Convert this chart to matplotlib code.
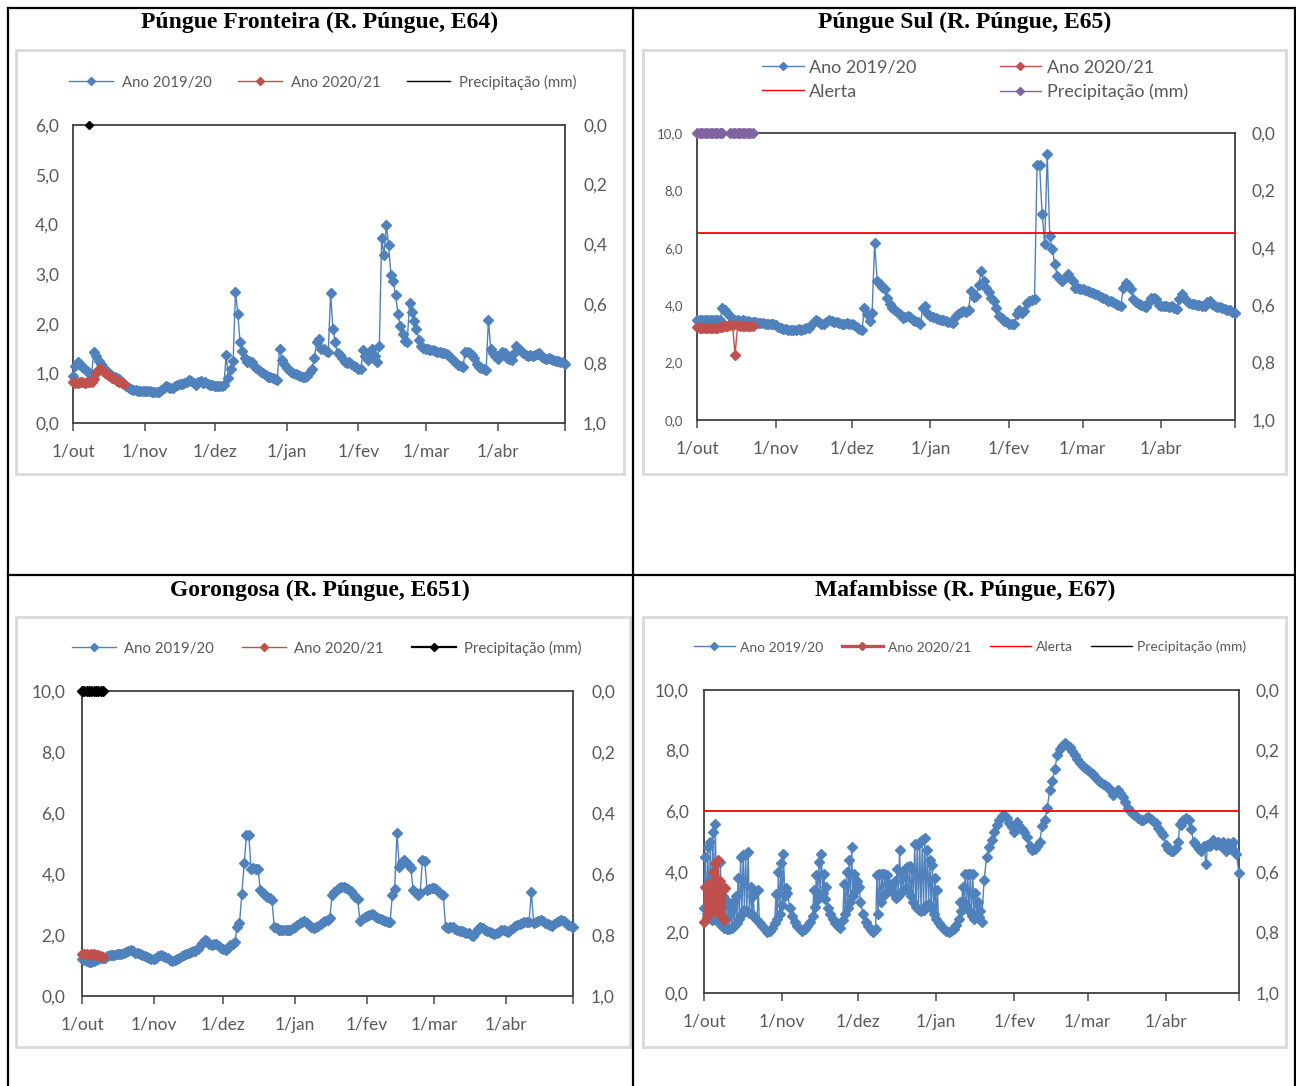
import numpy as np
import pandas as pd
import matplotlib
matplotlib.use("Agg")
import matplotlib.pyplot as plt
from matplotlib.lines import Line2D
from matplotlib.patches import Rectangle
from matplotlib.ticker import FuncFormatter

nan = np.nan

# ---------------- data ----------------
season_start = "2019-10-01"
season_end = "2020-04-30"
month_firsts = ["2019-10-01", "2019-11-01", "2019-12-01", "2020-01-01",
                "2020-02-01", "2020-03-01", "2020-04-01", "2020-04-30"]
month_labels = ["1/out", "1/nov", "1/dez", "1/jan", "1/fev", "1/mar", "1/abr", ""]

titles = ["Púngue Fronteira (R. Púngue, E64)", "Púngue Sul (R. Púngue, E65)",
          "Gorongosa (R. Púngue, E651)", "Mafambisse (R. Púngue, E67)"]

# Panel 1 - Púngue Fronteira (E64)
p1_2019 = [
    0.94, 1.15, 1.23, 1.18, 1.12, 1.08, 1.04, 1.01, 0.98, 1.43, 1.35, 1.25, 1.19, 1.12, 1.07, 1.02,
    0.98, 0.95, 0.92, 0.90, 0.88, 0.83, 0.79, 0.75, 0.71, 0.69, 0.67, 0.66, 0.65, 0.65, 0.65,
    0.65, 0.64, 0.64, 0.63, 0.63, 0.63, 0.63, 0.66, 0.70, 0.75, 0.72, 0.70, 0.71, 0.74, 0.76,
    0.78, 0.79, 0.80, 0.83, 0.87, 0.85, 0.80, 0.77, 0.82, 0.84, 0.80, 0.82, 0.78, 0.77, 0.76,
    0.75, 0.74, 0.74, 0.74, 0.76, 1.36, 0.90, 1.09, 1.25, 2.64, 2.20, 1.63, 1.45, 1.30, 1.22, 1.25,
    1.23, 1.15, 1.10, 1.06, 1.03, 1.00, 0.96, 0.93, 0.92, 0.90, 0.88, 0.86, 1.50, 1.26, 1.18,
    1.10, 1.06, 1.02, 1.00, 0.98, 0.96, 0.94, 0.93, 0.92, 0.95, 1.02, 1.09, 1.30, 1.63, 1.70, 1.50,
    1.48, 1.45, 1.43, 2.61, 1.90, 1.63, 1.40, 1.36, 1.30, 1.23, 1.20, 1.22, 1.19, 1.15, 1.12,
    1.09, 1.08, 1.46, 1.35, 1.26, 1.40, 1.50, 1.35, 1.23, 1.56, 3.72, 3.38, 3.99, 3.59, 2.98, 2.85,
    2.58, 2.20, 1.95, 1.80, 1.65, 1.63, 2.41, 2.24, 2.05, 1.90, 1.68, 1.56, 1.52,
    1.50, 1.48, 1.47, 1.46, 1.44, 1.43, 1.42, 1.41, 1.40, 1.38, 1.35, 1.30, 1.25, 1.20, 1.16, 1.14,
    1.13, 1.43, 1.42, 1.40, 1.36, 1.30, 1.19, 1.12, 1.10, 1.08, 1.06, 2.07, 1.50, 1.40, 1.35,
    1.29, 1.35, 1.43, 1.40, 1.30, 1.28, 1.26, 1.40, 1.56, 1.50, 1.45, 1.40, 1.36, 1.35, 1.37, 1.34,
    1.36, 1.38, 1.40, 1.33, 1.30, 1.29, 1.30, 1.28, 1.26, 1.25, 1.24, 1.23, 1.22, 1.19]
p1_2020 = [0.82, 0.81, 0.81, 0.82, 0.82, 0.81, 0.82, 0.82, 0.83, 0.88, 1.00, 1.08, 1.09, 1.04,
           1.00, 0.97, 0.94, 0.91, 0.88, 0.85, 0.82, 0.80, 0.79]
p1_prec_day = [7]
p1_prec = [0.0]

# Panel 2 - Púngue Sul (E65)
p2_2019 = [
    3.48, 3.49, 3.48, 3.50, 3.48, 3.49, 3.48, 3.50, 3.48, 3.47, 3.91, 3.82, 3.72, 3.62, 3.48, 3.47,
    3.48, 3.46, 3.47, 3.45, 3.44, 3.43, 3.42, 3.40, 3.38, 3.38, 3.37, 3.36, 3.35, 3.35, 3.34,
    3.30, 3.25, 3.21, 3.18, 3.16, 3.15, 3.15, 3.15, 3.15, 3.16, 3.15, 3.18, 3.20, 3.20, 3.30,
    3.42, 3.50, 3.40, 3.35, 3.33, 3.40, 3.47, 3.45, 3.40, 3.40, 3.38, 3.35, 3.35, 3.38, 3.36,
    3.33, 3.30, 3.25, 3.18, 3.15, 3.91, 3.70, 3.45, 3.74, 6.16, 4.84, 4.75, 4.65, 4.55, 4.26, 4.05,
    3.91, 3.85, 3.75, 3.68, 3.56, 3.60, 3.62, 3.58, 3.50, 3.45, 3.40, 3.33, 3.91, 3.97, 3.68,
    3.62, 3.58, 3.55, 3.52, 3.50, 3.48, 3.44, 3.41, 3.40, 3.39, 3.62, 3.70, 3.78, 3.80, 3.75, 3.85,
    4.49, 4.30, 4.32, 4.70, 5.19, 4.84, 4.60, 4.45, 4.25, 4.14, 3.90, 3.62, 3.55, 3.45, 3.40,
    3.36, 3.34, 3.33, 3.68, 3.85, 3.74, 3.80, 4.09, 4.15, 4.18, 4.20, 8.89, 8.89, 7.17, 6.12, 9.27,
    6.41, 5.95, 5.42, 5.02, 4.90, 4.84, 4.96, 5.08, 4.95, 4.84, 4.61, 4.60, 4.58,
    4.55, 4.52, 4.50, 4.47, 4.42, 4.38, 4.35, 4.30, 4.25, 4.20, 4.16, 4.14, 4.10, 4.05, 4.00, 3.97,
    4.61, 4.78, 4.70, 4.55, 4.20, 4.10, 4.05, 3.99, 3.97, 3.93, 4.10, 4.26, 4.26, 4.22, 4.00,
    3.97, 3.97, 3.97, 3.95, 3.97, 3.90, 3.88, 4.20, 4.38, 4.25, 4.14, 4.08, 4.05, 4.03, 4.02, 3.99,
    3.98, 3.97, 4.10, 4.14, 4.05, 3.97, 3.95, 3.93, 3.90, 3.88, 3.85, 3.82, 3.78, 3.74]
p2_2020 = [3.24, 3.22, 3.22, 3.22, 3.21, 3.22, 3.21, 3.22, 3.22, 3.24, 3.25, 3.27, 3.28, 3.30,
           3.30, 2.28, 3.30, 3.29, 3.28, 3.27, 3.28, 3.28, 3.28]
p2_alert = 6.5
p2_prec = [0.0, 0.0, 0.0, 0.0, 0.0, 0.0, 0.0, 0.0, 0.0, 0.0, 0.0, nan, nan,
           0.0, 0.0, 0.0, 0.0, 0.0, 0.0, 0.0, 0.0, 0.0, 0.0]

# Panel 3 - Gorongosa (E651)
p3_2019 = [
    1.20, 1.17, 1.15, 1.13, 1.13, 1.16, 1.19, 1.21, 1.23, 1.25, 1.26, 1.30, 1.33, 1.35, 1.36, 1.37,
    1.37, 1.37, 1.40, 1.45, 1.49, 1.51, 1.47, 1.42, 1.40, 1.37, 1.34, 1.32, 1.28, 1.25, 1.22,
    1.21, 1.26, 1.31, 1.35, 1.32, 1.28, 1.24, 1.19, 1.15, 1.17, 1.21, 1.26, 1.30, 1.35, 1.37,
    1.40, 1.43, 1.46, 1.48, 1.55, 1.65, 1.75, 1.84, 1.80, 1.72, 1.68, 1.70, 1.70, 1.65, 1.58,
    1.53, 1.51, 1.58, 1.68, 1.72, 1.76, 2.27, 2.38, 3.35, 4.36, 5.27, 5.27, 4.18, 4.20, 4.18, 4.18,
    3.46, 3.38, 3.30, 3.24, 3.20, 3.15, 2.27, 2.22, 2.18, 2.16, 2.16, 2.16, 2.16, 2.18, 2.22,
    2.27, 2.32, 2.38, 2.44, 2.45, 2.40, 2.33, 2.27, 2.23, 2.25, 2.30, 2.36, 2.42, 2.47, 2.49, 2.56,
    3.30, 3.40, 3.48, 3.54, 3.57, 3.57, 3.55, 3.52, 3.45, 3.35, 3.25, 3.19, 2.45, 2.52, 2.58,
    2.63, 2.66, 2.69, 2.66, 2.60, 2.55, 2.51, 2.48, 2.45, 2.43, 2.42, 3.30, 3.52, 5.35, 4.23, 4.40,
    4.45, 4.38, 4.30, 4.21, 3.46, 3.38, 3.30, 3.38, 4.45, 4.42, 3.48, 3.50, 3.55,
    3.55, 3.50, 3.42, 3.35, 3.30, 2.25, 2.22, 2.25, 2.25, 2.20, 2.16, 2.14, 2.12, 2.10, 2.08, 2.05,
    2.00, 1.98, 2.10, 2.20, 2.25, 2.22, 2.18, 2.14, 2.10, 2.06, 2.03, 2.05, 2.10, 2.15, 2.16,
    2.12, 2.09, 2.15, 2.22, 2.28, 2.32, 2.36, 2.40, 2.42, 2.42, 2.42, 3.41, 2.40, 2.42, 2.45, 2.49,
    2.45, 2.40, 2.36, 2.33, 2.31, 2.36, 2.42, 2.47, 2.49, 2.47, 2.40, 2.33, 2.28, 2.25]
p3_2020 = [1.38, 1.37, 1.37, 1.36, 1.37, 1.38, 1.36, 1.35, 1.32, 1.28]
p3_prec = [0.0, 0.0, 0.0, 0.0, 0.0, 0.0, 0.0, 0.0, 0.0, 0.0]

# Panel 4 - Mafambisse (E67): two readings a day (low / high)
p4_2019_low = [
    2.80, 2.60, 2.50, 2.40, 2.45, 2.50, 2.30, 2.20, 2.15, 2.10, 2.10, 2.15, 2.20, 2.30, 2.45, 2.60,
    2.75, 2.70, 2.65, 2.60, 2.50, 2.40, 2.30, 2.20, 2.10, 2.02, 2.05, 2.15, 2.30, 2.45, 2.60,
    2.90, 3.20, 3.30, 2.80, 2.55, 2.35, 2.20, 2.10, 2.05, 2.10, 2.20, 2.35, 2.55, 2.85, 3.10,
    3.25, 3.30, 3.10, 2.80, 2.60, 2.45, 2.30, 2.20, 2.15, 2.40, 2.60, 2.80, 3.00, 3.20, 3.35,
    3.45, 3.00, 2.60, 2.35, 2.20, 2.08, 2.02, 2.10, 2.60, 3.00, 3.20, 3.30, 3.35, 3.40, 3.30, 3.15,
    3.20, 3.30, 3.40, 3.45, 3.35, 3.20, 3.00, 2.85, 2.75, 2.70, 2.75, 2.90, 2.95, 2.80, 2.60,
    2.45, 2.30, 2.20, 2.12, 2.06, 2.02, 2.05, 2.12, 2.25, 2.45, 2.70, 3.00, 2.90, 2.70, 2.55, 2.45,
    2.60, 2.50, 2.35, 3.72, 4.50, 4.82, 5.04, 5.30, 5.55, 5.72, 5.85, 5.87, 5.76, 5.60, 5.48,
    5.32, 5.65, 5.50, 5.40, 5.30, 5.15, 4.85, 4.72, 4.75, 4.85, 5.00, 5.50, 5.70, 6.10, 6.70, 7.00,
    7.40, 7.85, 8.05, 8.15, 8.24, 8.20, 8.13, 8.00, 7.85, 7.72, 7.60, 7.50, 7.42,
    7.35, 7.28, 7.22, 7.12, 7.02, 6.95, 6.90, 6.85, 6.80, 6.70, 6.55, 6.65, 6.70, 6.60, 6.48, 6.30,
    6.12, 6.00, 5.90, 5.85, 5.78, 5.72, 5.72, 5.78, 5.80, 5.75, 5.68, 5.60, 5.45, 5.30, 5.20,
    4.90, 4.75, 4.68, 4.70, 4.80, 5.00, 5.55, 5.70, 5.76, 5.70, 5.40, 5.00, 4.88, 4.75, 4.70, 4.85,
    4.27, 4.85, 4.90, 4.95, 4.88, 4.95, 4.85, 4.80, 4.70, 4.75, 4.85, 4.70, 4.60, 3.96]
p4_2019_high = [
    4.49, 4.82, 4.99, 5.32, 5.59, 3.50, 4.33, 3.20, 2.90, 3.00, 2.80, 3.00, 3.20, 3.80, 4.49, 4.55,
    4.60, 4.66, 3.50, 3.20, nan, 3.41, nan, nan, nan, nan, nan, nan, 3.28, 4.00, 4.30,
    4.60, 3.45, nan, nan, nan, nan, nan, nan, nan, nan, nan, nan, 3.40, 3.90, 4.33,
    4.60, 3.94, 3.50, nan, nan, nan, nan, nan, nan, 3.60, 4.00, 4.38, 4.82, 3.94, 3.70,
    3.50, nan, nan, nan, nan, nan, nan, 3.90, 3.94, 3.94, 3.94, 3.90, 3.60, 3.60, 3.70, 4.10,
    4.71, 4.00, 4.10, 4.15, 4.20, 4.10, 4.93, 4.90, 4.99, 5.05, 5.10, 4.71, 4.40, 4.22, 3.80,
    3.39, nan, nan, nan, nan, nan, nan, nan, nan, 3.00, 3.50, 3.94, 3.94, 3.94, 3.94, 3.30,
    3.00, 2.70, nan, nan, nan, nan, nan, nan, nan, nan, nan, nan, nan, nan, nan,
    nan, nan, nan, nan, nan, nan, nan, nan, nan, nan, nan, nan, nan, nan, nan, nan,
    nan, nan, nan, nan, nan, nan, nan, nan, nan, nan, nan, nan, nan,
    nan, nan, nan, nan, nan, nan, nan, nan, nan, nan, nan, nan, nan, nan, nan, nan,
    nan, nan, nan, nan, nan, nan, nan, nan, nan, nan, nan, nan, nan, nan, nan,
    nan, nan, nan, nan, nan, 5.59, nan, nan, nan, nan, nan, nan, nan, nan, nan, nan,
    4.88, nan, 5.05, nan, 5.00, nan, 5.00, nan, 4.95, nan, 5.00, nan, nan, nan]
p4_2020_low = [2.35, 2.50, 2.60, 2.70, 2.80, 2.90, 2.60, 2.50, 2.40]
p4_2020_high = [3.50, 3.60, 3.55, 4.00, 4.30, 4.38, 3.70, 3.40, 3.45]
p4_alert = 6.0

# ---------------- style ----------------
W, H = 1296, 1086
BLUE = "#4F81BD"
RED = "#C0504D"
PURPLE = "#8064A2"
ALERT = "#FF0000"
GRAY = "#595959"
FONT = ["Lato", "DejaVu Sans"]
NARROW = ["Liberation Sans Narrow", "Lato", "DejaVu Sans"]
MS = 4.6

fig = plt.figure(figsize=(W / 100, H / 100), dpi=100)
fig.patch.set_facecolor("white")

t0 = pd.Timestamp(season_start)
n_days = (pd.Timestamp(season_end) - t0).days
tick_days = [(pd.Timestamp(d) - t0).days for d in month_firsts]


def frect(l, t, r, b):
    return [l / W, 1 - b / H, (r - l) / W, (b - t) / H]


def fline(x0, y0, x1, y1, lw=1.6):
    fig.add_artist(Line2D([x0 / W, x1 / W], [1 - y0 / H, 1 - y1 / H],
                          transform=fig.transFigure, color="black", lw=lw))


def fbox(l, t, r, b):
    fig.add_artist(Rectangle((l / W, 1 - b / H), (r - l) / W, (b - t) / H,
                             transform=fig.transFigure, fill=False,
                             ec="#D9D9D9", lw=2))


comma = FuncFormatter(lambda v, p: f"{v:.1f}".replace(".", ","))


def setup(rect, ymax, ystep, lfs, rfs, xfs, lpad, rpad, xpad, lfam=FONT, xfam=FONT, rfam=FONT):
    ax = fig.add_axes(frect(*rect))
    ax.set_xlim(0, n_days)
    ax.set_ylim(0, ymax)
    ax.set_yticks(np.arange(0, ymax + 0.001, ystep))
    ax.yaxis.set_major_formatter(comma)
    ax.set_xticks(tick_days)
    ax.set_xticklabels(month_labels)
    ax.tick_params(axis="y", length=0, pad=lpad, labelsize=lfs, labelcolor=GRAY)
    ax.tick_params(axis="x", length=6, width=1.2, direction="out", color=GRAY,
                   pad=xpad, labelsize=xfs, labelcolor=GRAY)
    for lab in ax.get_yticklabels():
        lab.set_family(lfam)
    for lab in ax.get_xticklabels():
        lab.set_family(xfam)
    for s in ax.spines.values():
        s.set_color("#404040")
        s.set_linewidth(1.3)
    ax2 = ax.twinx()
    ax2.set_ylim(1, 0)
    ax2.set_yticks(np.arange(0, 1.001, 0.2))
    ax2.yaxis.set_major_formatter(comma)
    ax2.tick_params(axis="y", length=0, pad=rpad, labelsize=rfs, labelcolor=GRAY)
    for lab in ax2.get_yticklabels():
        lab.set_family(rfam)
    for s in ax2.spines.values():
        s.set_visible(False)
    return ax, ax2


def series(ax, vals, color, lw=1.0, ms=MS, z=3):
    v = np.array(vals, dtype=float)
    d = np.arange(len(v))
    m = ~np.isnan(v)
    ax.plot(d[m], v[m], color=color, lw=lw, marker="D", ms=ms, mec=color,
            mfc=color, zorder=z, clip_on=False)


def twice_daily(ax, low, high, color, lw=1.0, ms=MS, z=3):
    lo = np.array(low, dtype=float)
    hi = np.array(high, dtype=float)
    d = np.arange(len(lo))
    xs = np.concatenate([d, d + 0.5])
    ys = np.concatenate([lo, hi])
    order = np.argsort(xs, kind="stable")
    xs, ys = xs[order], ys[order]
    m = ~np.isnan(ys)
    ax.plot(xs[m], ys[m], color=color, lw=lw, marker="D", ms=ms, mec=color,
            mfc=color, zorder=z, clip_on=False)


def legend(handles, labels, cx, cy, ncol, fs, hl, htp, cs, ls=0.5):
    lg = fig.legend(handles, labels, loc="center", bbox_to_anchor=(cx / W, 1 - cy / H),
                    ncol=ncol, frameon=False, prop={"family": FONT, "size": fs},
                    handlelength=hl, handletextpad=htp, columnspacing=cs,
                    labelspacing=ls, borderaxespad=0, borderpad=0)
    for t in lg.get_texts():
        t.set_color(GRAY)
    return lg


def h(color, lw=1.0, marker="D", ms=4):
    return Line2D([], [], color=color, lw=lw, marker=marker if marker else None,
                  ms=ms, mec=color, mfc=color)


# ---------------- table frame ----------------
fline(8, 8, 1296, 8)
fline(8, 575, 1296, 575)
fline(8, 8, 8, 1086)
fline(633, 8, 633, 1086)
fline(1295, 8, 1295, 1086)

for (cx, cy), ttl in zip([(320, 22), (965, 22), (320, 590), (965, 590)], titles):
    fig.text(cx / W, 1 - cy / H, ttl, ha="center", va="center",
             family=["Liberation Serif", "DejaVu Serif"], weight="bold", fontsize=17)

fbox(16, 50, 624, 474)
fbox(643, 50, 1286, 474)
fbox(16, 617, 630, 1047)
fbox(643, 617, 1286, 1047)

# ---------------- panel 1 ----------------
ax, ax2 = setup((73, 125, 565, 423), 6.0, 1.0, 12.5, 12.5, 12.5, 10, 13, 9)
series(ax, p1_2019, BLUE)
series(ax, p1_2020, RED, z=4)
ax2.plot(p1_prec_day, p1_prec, color="black", lw=1.2, marker="D", ms=4.5, clip_on=False, zorder=5)
legend([h(BLUE), h(RED), h("black", marker=None)],
       ["Ano 2019/20", "Ano 2020/21", "Precipitação (mm)"],
       323, 82, 3, 10.8, 2.9, 0.6, 1.75)

# ---------------- panel 2 ----------------
ax, ax2 = setup((697, 133, 1235, 420), 10.0, 2.0, 9.5, 12.5, 12.5, 10, 12, 9,
                lfam=NARROW, xfam=NARROW, rfam=NARROW)
series(ax, p2_2019, BLUE)
series(ax, p2_2020, RED, z=4)
ax.axhline(p2_alert, color=ALERT, lw=1.3, zorder=5)
series(ax2, p2_prec, PURPLE, z=6)
legend([h(BLUE), h(ALERT, marker=None), h(RED), h(PURPLE)],
       ["Ano 2019/20", "Alerta", "Ano 2020/21", "Precipitação (mm)"],
       975, 80, 2, 13, 2.3, 0.3, 4.6, 0.45)

# ---------------- panel 3 ----------------
ax, ax2 = setup((82, 691, 573, 996), 10.0, 2.0, 12.5, 12.5, 12.5, 12, 13, 9)
series(ax, p3_2019, BLUE)
series(ax, p3_2020, RED, ms=5, z=4)
series(ax2, p3_prec, "black", lw=2, ms=5, z=6)
legend([h(BLUE), h(RED), h("black", lw=1.6)],
       ["Ano 2019/20", "Ano 2020/21", "Precipitação (mm)"],
       327, 648, 3, 10.8, 2.9, 0.55, 1.9)

# ---------------- panel 4 ----------------
ax, ax2 = setup((704, 690, 1239, 993), 10.0, 2.0, 12.5, 12.5, 12.5, 11, 12, 9)
twice_daily(ax, p4_2019_low, p4_2019_high, BLUE)
twice_daily(ax, p4_2020_low, p4_2020_high, RED, lw=1.6, ms=4.6, z=4)
ax.axhline(p4_alert, color=ALERT, lw=1.3, zorder=5)
legend([h(BLUE), h(RED, lw=2.4), h(ALERT, marker=None), h("black", marker=None)],
       ["Ano 2019/20", "Ano 2020/21", "Alerta", "Precipitação (mm)"],
       970, 647, 4, 10, 2.95, 0.35, 1.35)

fig.savefig("out.png", dpi=100, facecolor="white")
